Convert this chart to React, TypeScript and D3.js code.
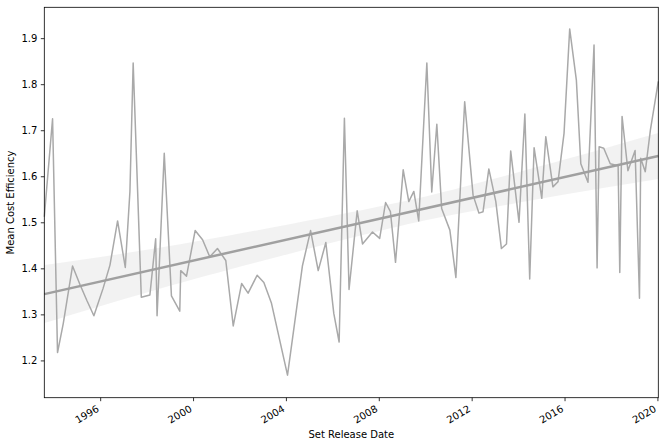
import React, { useRef, useEffect } from 'react';
import * as d3 from 'd3';

// release date of each set and its mean cost efficiency
const releaseDates: string[] = [
  '1993-08-05', '1993-12-13', '1994-03-01', '1994-05-30', '1994-10-23', '1995-02-17', '1995-06-06', '1995-09-24',
  '1996-02-17', '1996-06-03', '1996-10-01', '1997-01-30', '1997-04-13', '1997-06-03', '1997-10-09', '1998-02-21',
  '1998-05-23', '1998-06-14', '1998-10-05', '1999-01-26', '1999-06-06', '1999-06-21', '1999-09-20', '2000-02-03',
  '2000-05-30', '2000-09-20', '2001-01-19', '2001-05-30', '2001-09-24', '2002-02-03', '2002-05-16', '2002-10-05',
  '2003-01-19', '2003-05-19', '2004-01-26', '2004-09-16', '2005-01-23', '2005-05-23', '2005-09-20', '2006-01-23',
  '2006-04-17', '2006-07-09', '2006-09-20', '2007-01-26', '2007-04-20', '2007-09-24', '2008-01-15', '2008-04-17',
  '2008-07-02', '2008-09-20', '2009-01-19', '2009-04-17', '2009-07-05', '2009-09-20', '2010-01-26', '2010-04-13',
  '2010-07-02', '2010-09-16', '2011-01-23', '2011-04-28', '2011-09-13', '2012-01-23', '2012-04-24', '2012-06-28',
  '2012-09-27', '2013-01-15', '2013-04-13', '2013-07-02', '2013-09-06', '2014-01-15', '2014-04-17', '2014-07-02',
  '2014-09-09', '2015-01-08', '2015-03-12', '2015-07-02', '2015-09-20', '2015-12-24', '2016-03-22', '2016-07-05',
  '2016-09-13', '2017-01-04', '2017-04-09', '2017-05-27', '2017-06-28', '2017-09-09', '2017-12-20', '2018-04-23',
  '2018-05-19', '2018-06-24', '2018-09-24', '2019-01-15', '2019-03-25', '2019-04-13', '2019-06-24', '2019-09-13',
  '2020-01-15',
];

const meanCostEfficiency: number[] = [
  1.512, 1.725, 1.217, 1.280, 1.405, 1.365, 1.330, 1.297,
  1.357, 1.407, 1.503, 1.402, 1.567, 1.846, 1.337, 1.342,
  1.464, 1.297, 1.650, 1.340, 1.307, 1.395, 1.383, 1.482,
  1.462, 1.425, 1.443, 1.417, 1.275, 1.367, 1.346, 1.385,
  1.369, 1.324, 1.168, 1.405, 1.482, 1.395, 1.456, 1.302,
  1.240, 1.726, 1.354, 1.525, 1.453, 1.479, 1.465, 1.543,
  1.523, 1.413, 1.614, 1.545, 1.567, 1.503, 1.846, 1.566,
  1.713, 1.530, 1.483, 1.380, 1.762, 1.559, 1.520, 1.523,
  1.616, 1.545, 1.443, 1.453, 1.655, 1.500, 1.735, 1.377,
  1.662, 1.552, 1.686, 1.577, 1.588, 1.693, 1.920, 1.809,
  1.627, 1.587, 1.885, 1.401, 1.664, 1.661, 1.627, 1.623,
  1.391, 1.730, 1.612, 1.656, 1.335, 1.639, 1.610, 1.701,
  1.806,
];

// regression line (value at first and last release) and its confidence band
const fitValues: number[] = [1.344, 1.644];
const bandDates: string[] = ['1993-08-05', '1998-06-01', '2004-03-01', '2008-11-01', '2012-01-01', '2016-01-01', '2020-01-15'];
const bandHalfWidth: number[] = [0.063, 0.045, 0.032, 0.026, 0.029, 0.038, 0.050];

const yTicks = [1.2, 1.3, 1.4, 1.5, 1.6, 1.7, 1.8, 1.9];
const xTickYears = [1996, 2000, 2004, 2008, 2012, 2016, 2020];

const width = 665;
const height = 448;
const margin = { top: 7.3, right: 6.7, bottom: 50.3, left: 44.3 };

const App: React.FC = () => {
  const svgRef = useRef<SVGSVGElement>(null);

  useEffect(() => {
    if (!svgRef.current) return;
    const svg = d3.select(svgRef.current);
    svg.selectAll('*').remove();

    const parse = (d: string) => new Date(d + 'T00:00:00');
    const data = releaseDates.map((d, i) => ({ date: parse(d), value: meanCostEfficiency[i] }));

    const xScale = d3.scaleTime()
      .domain(d3.extent(data, d => d.date) as [Date, Date])
      .range([margin.left, width - margin.right]);

    const yScale = d3.scaleLinear()
      .domain([1.119, 1.967])
      .range([height - margin.bottom, margin.top]);

    // straight fitted line over the date range
    const fitLine = d3.scaleTime().domain(xScale.domain()).range(fitValues);
    const band = bandDates.map((d, i) => {
      const date = parse(d);
      return { date, lo: fitLine(date) - bandHalfWidth[i], hi: fitLine(date) + bandHalfWidth[i] };
    });

    const plot = svg.append('g');

    plot.append('path')
      .datum(band)
      .attr('fill', '#a6a6a6')
      .attr('fill-opacity', 0.15)
      .attr('d', d3.area<any>()
        .curve(d3.curveNatural)
        .x(d => xScale(d.date))
        .y0(d => yScale(d.lo))
        .y1(d => yScale(d.hi)));

    plot.append('path')
      .datum(data)
      .attr('fill', 'none')
      .attr('stroke', '#a9a9a9')
      .attr('stroke-width', 1.5)
      .attr('stroke-linejoin', 'round')
      .attr('d', d3.line<any>()
        .x(d => xScale(d.date))
        .y(d => yScale(d.value)));

    plot.append('path')
      .datum(xScale.domain())
      .attr('fill', 'none')
      .attr('stroke', '#a0a0a0')
      .attr('stroke-width', 2.5)
      .attr('d', d3.line<Date>()
        .x(d => xScale(d))
        .y(d => yScale(fitLine(d))));

    // frame
    svg.append('rect')
      .attr('x', margin.left)
      .attr('y', margin.top)
      .attr('width', width - margin.left - margin.right)
      .attr('height', height - margin.top - margin.bottom)
      .attr('fill', 'none')
      .attr('stroke', '#000')
      .attr('stroke-width', 0.8);

    const font = '"DejaVu Sans", sans-serif';

    // y axis
    const yAxis = svg.append('g')
      .attr('transform', `translate(${margin.left},0)`)
      .call(d3.axisLeft(yScale).tickValues(yTicks).tickSize(3.5).tickPadding(3.5).tickFormat(d3.format('.1f')));
    yAxis.select('.domain').remove();
    yAxis.selectAll('line').attr('stroke', '#000').attr('stroke-width', 0.8);
    yAxis.selectAll('text').attr('font-family', font).attr('font-size', 10).attr('fill', '#000');

    // x axis
    const xAxis = svg.append('g')
      .attr('transform', `translate(0,${height - margin.bottom})`)
      .call(d3.axisBottom(xScale)
        .tickValues(xTickYears.map(y => new Date(y, 0, 1)))
        .tickSize(3.5)
        .tickFormat(d => d3.timeFormat('%Y')(d as Date)));
    xAxis.select('.domain').remove();
    xAxis.selectAll('line').attr('stroke', '#000').attr('stroke-width', 0.8);
    xAxis.selectAll('text')
      .attr('font-family', font)
      .attr('font-size', 10)
      .attr('fill', '#000')
      .attr('y', 0)
      .attr('dy', 0)
      .attr('text-anchor', 'end')
      .attr('dominant-baseline', 'hanging')
      .attr('transform', 'translate(-4.5,7) rotate(-30)');

    svg.append('text')
      .attr('x', (margin.left + width - margin.right) / 2)
      .attr('y', 438)
      .attr('text-anchor', 'middle')
      .attr('font-family', font)
      .attr('font-size', 10)
      .text('Set Release Date');

    svg.append('text')
      .attr('transform', `translate(14,${(margin.top + height - margin.bottom) / 2}) rotate(-90)`)
      .attr('text-anchor', 'middle')
      .attr('font-family', font)
      .attr('font-size', 10)
      .text('Mean Cost Efficiency');
  }, []);

  return (
    <svg ref={svgRef} width={width} height={height}
      style={{ position: 'absolute', left: 0, top: 0, background: '#fff' }} />
  );
};

export default App;
